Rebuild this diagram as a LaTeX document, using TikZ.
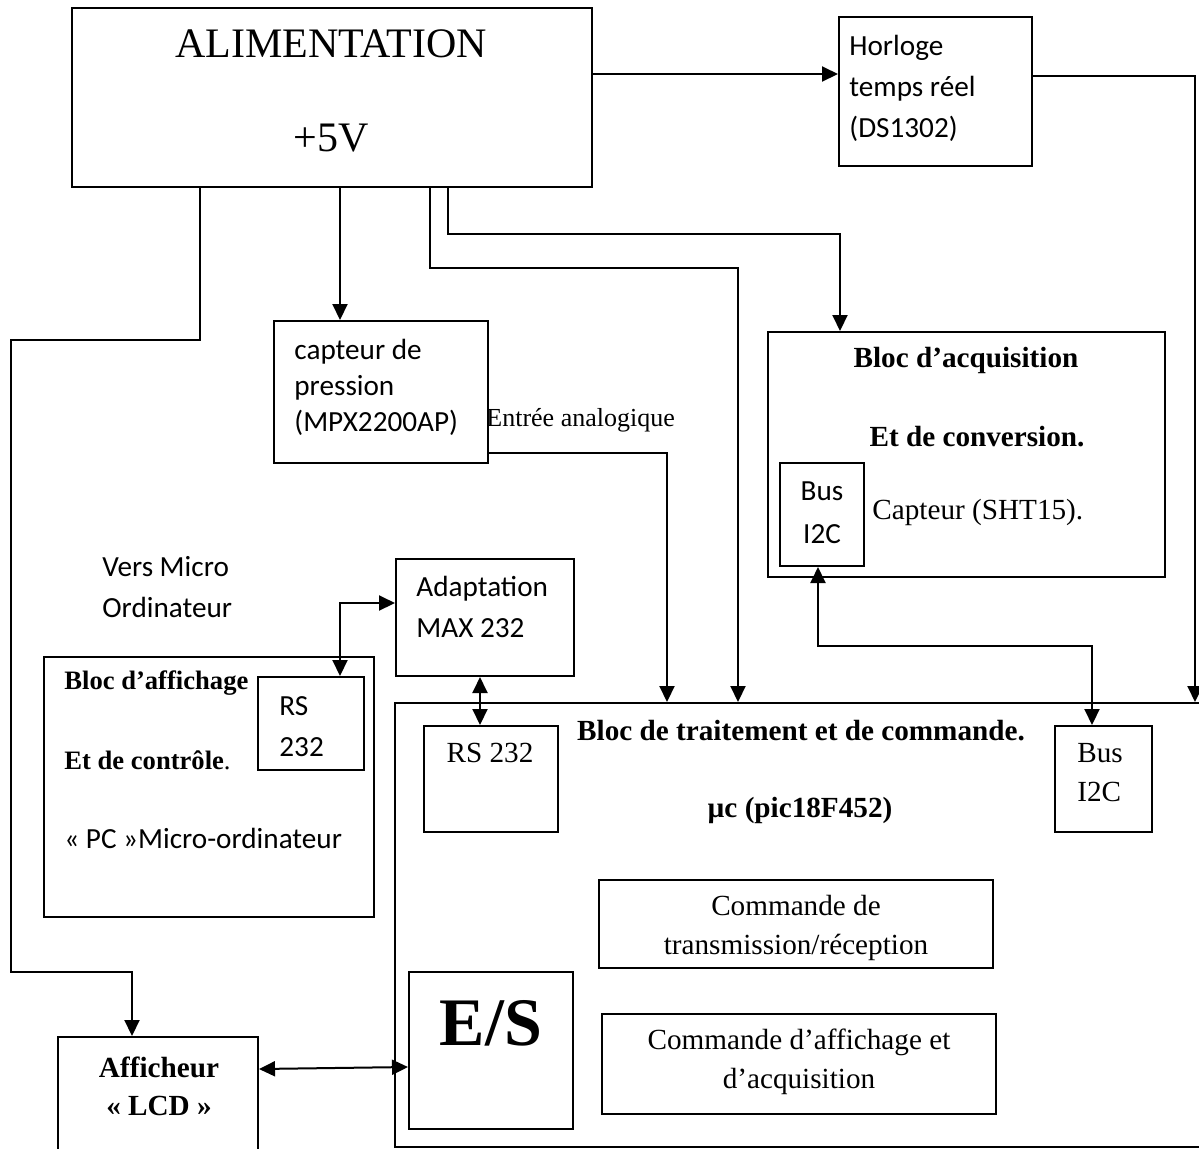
\documentclass[tikz,border=0pt]{standalone}
\usepackage{fontspec}
\setmainfont{Liberation Serif}
\newfontfamily\gillsans{Carlito}
\usetikzlibrary{arrows.meta}
\tikzset{
  bloc/.style={draw, line width=1pt, inner sep=0pt},
  fil/.style={line width=1pt},
  fleche/.style={fil, -{Triangle[length=8pt,width=7.5pt]}},
  dfleche/.style={fil, {Triangle[length=8pt,width=7.5pt]}-{Triangle[length=8pt,width=7.5pt]}},
  serif/.style={inner sep=0pt, align=center, font=\fontsize{14.6}{19.5}\selectfont},
  gras/.style={serif, font=\fontsize{14.6}{19}\selectfont\bfseries},
  sans/.style={inner sep=0pt, align=left, font=\gillsans\fontsize{14.6}{20.5}\selectfont}
}
\begin{document}
\begin{tikzpicture}[x=0.5pt,y=-0.5pt]
    \clip (0,0) rectangle (1199,1148);
    % blocs
    \node[bloc, minimum width=260pt, minimum height=89.5pt] (alim) at (332,97.5) {}; % alimentation
    \node[bloc, minimum width=96.5pt, minimum height=74.5pt] (horloge) at (935.5,91.5) {}; % horloge
    \node[bloc, minimum width=107pt, minimum height=71pt] (capteur) at (381,392) {}; % capteur de pression
    \node[bloc, minimum width=198.5pt, minimum height=122.5pt] (acq) at (966.5,454.5) {}; % bloc d'acquisition
    \node[bloc, minimum width=42pt, minimum height=51.5pt] (busA) at (822,514.5) {}; % bus I2C capteur
    \node[bloc, minimum width=89pt, minimum height=58.5pt] (adapt) at (485,617.5) {}; % MAX 232
    \node[bloc, minimum width=165pt, minimum height=130pt] (affich) at (209,787) {}; % PC
    \node[bloc, minimum width=53pt, minimum height=46.5pt] (rsA) at (311,723.5) {}; % RS 232 du PC
    \node[bloc, minimum width=410pt, minimum height=222pt] (main) at (805,925) {}; % bloc de traitement
    \node[bloc, minimum width=67pt, minimum height=53pt] (rsB) at (491,779) {}; % RS 232 du pic
    \node[bloc, minimum width=48.5pt, minimum height=53pt] (busB) at (1103.5,779) {}; % bus I2C du pic
    \node[bloc, minimum width=197pt, minimum height=44pt] (cmdTx) at (796,924) {}; % commande transmission
    \node[bloc, minimum width=197pt, minimum height=50pt] (cmdAff) at (799,1064) {}; % commande affichage
    \node[bloc, minimum width=82pt, minimum height=78.5pt] (es) at (491,1050.5) {}; % E/S
    \node[bloc, minimum width=100pt, minimum height=64pt] (lcd) at (158,1101) {}; % afficheur LCD
    % textes
    \node[serif, font=\fontsize{21}{25}\selectfont] (tAlim) at (331,44) {ALIMENTATION};
    \node[serif, font=\fontsize{21}{25}\selectfont] (tCinq) at (331,138) {+5V};
    \node[sans, anchor=west] (tHorloge) at (849,88) {Horloge\\temps réel\\(DS1302)};
    \node[sans, anchor=west, font=\gillsans\fontsize{14.6}{18}\selectfont] (tCapteur) at (294,387) {capteur de\\pression\\(MPX2200AP)};
    \node[serif, anchor=west, font=\fontsize{13}{15}\selectfont] (tEntree) at (486,420) {Entrée analogique};
    \node[gras] (tAcq) at (966,360) {Bloc d’acquisition};
    \node[gras] (tConv) at (977,437) {Et de conversion.};
    \node[sans, align=center, font=\gillsans\fontsize{14.6}{21.5}\selectfont] (tBusA) at (822,513) {Bus\\I2C};
    \node[serif, anchor=west] (tSht) at (872,512) {Capteur (SHT15).};
    \node[sans, anchor=west] (tVers) at (102,587) {Vers Micro\\Ordinateur};
    \node[sans, anchor=west] (tAdapt) at (416,607) {Adaptation\\MAX 232};
    \node[gras, anchor=west, font=\fontsize{13.3}{16}\selectfont\bfseries] (tAffich) at (64,683) {Bloc d’affichage};
    \node[gras, anchor=west, font=\fontsize{13.3}{16}\selectfont\bfseries] (tControle) at (64,760) {Et de contrôle{\mdseries .}};
    \node[sans, anchor=west] (tPC) at (64,838) {«~PC~»Micro-ordinateur};
    \node[sans, anchor=west] (tRsA) at (279,727) {RS\\232};
    \node[gras] (tTraitement) at (801,731) {Bloc de traitement et de commande.};
    \node[gras] (tPic) at (800,810) {µc (pic18F452)};
    \node[serif] (tRsB) at (490,753) {RS 232};
    \node[serif, anchor=west, align=left] (tBusB) at (1077,773) {Bus\\I2C};
    \node[serif] (tCmdTx) at (796,928) {Commande de\\transmission/réception};
    \node[serif] (tCmdAff) at (799,1062) {Commande d’affichage et\\d’acquisition};
    \node[gras, font=\fontsize{34}{40}\selectfont\bfseries] (tES) at (491,1023) {E/S};
    \node[gras] (tLcd) at (159,1086) {Afficheur\\«~LCD~»};
    % liaisons
    \draw[fleche] (alim.east |- 0,74) -- (horloge.west |- 0,74); % vers horloge
    \draw[fleche] (horloge.east |- 0,76) -| (main.north -| 1195,0); % horloge vers pic
    \draw[fleche] (alim.south -| 340,0) -- (capteur.north -| 340,0); % vers capteur
    \draw[fleche] (alim.south -| 200,0) -- (200,340) -- (11,340) -- (11,972) -- (132,972) -- (lcd.north -| 132,0); % vers LCD
    \draw[fleche] (alim.south -| 448,0) |- (840,234) -- (acq.north -| 840,0); % vers acquisition
    \draw[fleche] (alim.south -| 430,0) |- (738,268) -- (main.north -| 738,0); % vers pic
    \draw[fleche] (capteur.east |- 0,453) -| (main.north -| 667,0); % entree analogique
    \draw[dfleche] (busA.south -| 818,0) |- (1092,646) -- (busB.north -| 1092,0); % bus I2C
    \draw[dfleche] (adapt.west |- 0,603) -| (rsA.north -| 340,0); % MAX 232 vers PC
    \draw[dfleche] (adapt.south -| 480,0) -- (rsB.north -| 480,0); % MAX 232 vers pic
    \draw[dfleche] (lcd.east |- 0,1069) -- (es.west |- 0,1067); % LCD vers E/S
\end{tikzpicture}
\end{document}
